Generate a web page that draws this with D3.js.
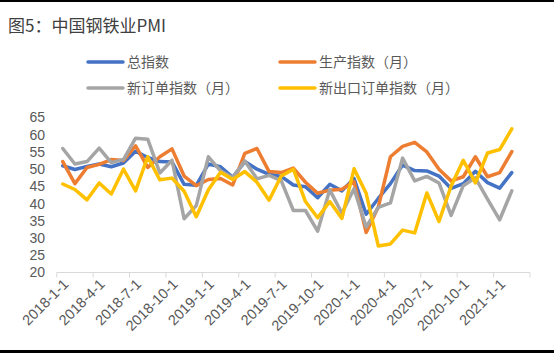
<!DOCTYPE html>
<html><head><meta charset="utf-8">
<script src="https://cdn.jsdelivr.net/npm/d3@7"></script>
<style>
html,body{margin:0;padding:0;background:#fff;}
svg{display:block;}
text{font-family:"Noto Sans CJK SC","Noto Sans",sans-serif;}
text.num{font-family:"Liberation Sans",Arial,sans-serif;}
</style></head>
<body>
<script>
// Months 2018-1 .. 2021-3 (category axis)
const months = [];
for (let y = 2018; y <= 2021; y++) for (let m = 1; m <= 12; m++) {
  if (y === 2021 && m > 3) break;
  months.push(y + "-" + m + "-1");
}
const tickLabels = ["2018-1-1","2018-4-1","2018-7-1","2018-10-1","2019-1-1","2019-4-1","2019-7-1","2019-10-1","2020-1-1","2020-4-1","2020-7-1","2020-10-1","2021-1-1"];
const yTicks = [20,25,30,35,40,45,50,55,60,65];

const totalIndex = [51.0,49.9,50.8,51.5,50.7,51.8,55.2,53.4,52.2,52.1,45.6,45.3,51.5,50.7,47.6,52.2,50.0,48.5,47.9,45.4,44.9,41.7,45.6,43.7,47.3,36.9,41.5,45.8,51.2,49.6,49.5,48.0,44.4,45.8,49.4,46.1,44.5,49.0];
const production = [52.2,45.8,50.5,51.4,52.8,52.5,56.8,50.5,53.6,55.9,48.0,45.2,47.0,47.3,45.4,54.6,56.0,49.3,49.0,50.3,46.2,43.0,43.9,44.2,46.4,31.6,39.0,53.6,56.6,57.8,55.0,50.0,46.6,47.8,53.6,47.8,49.0,55.1];
const newOrders = [56.0,51.5,52.2,56.1,51.9,52.8,59.0,58.7,48.9,52.6,35.6,39.4,53.6,49.5,47.5,52.4,47.2,48.2,46.7,38.0,38.0,32.0,44.0,37.2,44.3,33.2,38.9,40.2,53.2,46.6,47.9,46.0,36.6,45.2,47.5,41.3,35.3,43.7];
const exportOrders = [45.7,44.1,41.1,46.0,42.8,50.0,43.7,53.6,46.9,47.4,43.6,36.2,44.0,49.1,47.0,49.3,46.2,41.0,48.0,50.0,40.6,35.9,40.6,35.7,50.1,43.0,27.7,28.3,32.3,31.5,43.1,34.8,45.1,52.6,46.0,54.7,55.7,61.7];

const series = [
  {name:"总指数", values: totalIndex, color:"#4472C4"},
  {name:"生产指数（月）", values: production, color:"#ED7D31"},
  {name:"新订单指数（月）", values: newOrders, color:"#A5A5A5"},
  {name:"新出口订单指数（月）", values: exportOrders, color:"#FFC000"}
];

const W = 554, H = 353;
const svg = d3.select("body").append("svg").attr("width", W).attr("height", H);

// frame lines top/bottom
svg.append("rect").attr("x",0).attr("y",0).attr("width",W).attr("height",2).attr("fill","#000");
svg.append("rect").attr("x",0).attr("y",H-3).attr("width",W).attr("height",3).attr("fill","#000");

// title
svg.append("text").attr("x",8).attr("y",32).attr("font-size",17).attr("fill","#404040").text("图5：中国钢铁业PMI");

const x = d3.scaleBand().domain(months).range([56.7, 530]).paddingInner(0).paddingOuter(0);
const y = d3.scaleLinear().domain([20,65]).range([272.5,117.5]);

// y labels
svg.append("g").selectAll("text").data(yTicks).join("text").attr("class","num")
  .attr("x",45).attr("y",d=>y(d)).attr("dy","0.35em").attr("text-anchor","end")
  .attr("font-size",14).attr("fill","#595959").text(d=>d);

// x axis
svg.append("line").attr("x1",x.range()[0]).attr("x2",x.range()[1]).attr("y1",y(20)).attr("y2",y(20))
  .attr("stroke","#d9d9d9").attr("stroke-width",1);
const tickPos = months.filter((d,i)=>i%3===0).map(d=>x(d)).concat([x.range()[1]]);
svg.append("g").selectAll("line").data(tickPos).join("line")
  .attr("x1",d=>d).attr("x2",d=>d).attr("y1",y(20)).attr("y2",y(20)+5)
  .attr("stroke","#d9d9d9").attr("stroke-width",1);
svg.append("g").selectAll("text").data(tickLabels).join("text").attr("class","num")
  .attr("transform",d=>`translate(${x(d)+x.bandwidth()/2+3},${y(20)+9}) rotate(-45)`)
  .attr("text-anchor","end").attr("dy","0.35em")
  .attr("font-size",14.5).attr("fill","#595959").text(d=>d);

// lines
const line = d3.line().x((d,i)=>x(months[i])+x.bandwidth()/2).y(d=>y(d));
svg.append("g").selectAll("path").data(series).join("path")
  .attr("d",d=>line(d.values)).attr("fill","none").attr("stroke",d=>d.color)
  .attr("stroke-width",3.5).attr("stroke-linejoin","round").attr("stroke-linecap","round");

// legend
const legPos = [[88,62],[280,62],[88,88],[280,88]];
const lg = svg.append("g").selectAll("g").data(series).join("g")
  .attr("transform",(d,i)=>`translate(${legPos[i][0]},${legPos[i][1]})`);
lg.append("line").attr("x1",0).attr("x2",35).attr("y1",0).attr("y2",0)
  .attr("stroke",d=>d.color).attr("stroke-width",3.5).attr("stroke-linecap","round");
lg.append("text").attr("x",39).attr("y",0).attr("dy","0.35em").attr("font-size",14)
  .attr("fill","#595959").text(d=>d.name);
</script>
</body></html>
